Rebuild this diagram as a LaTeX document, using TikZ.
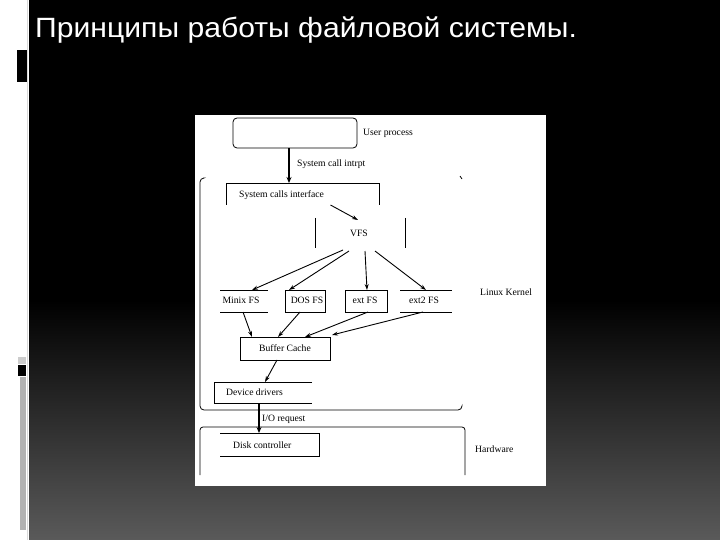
\documentclass[tikz,border=0pt]{standalone}
\usepackage{fontspec}
\setmainfont{Liberation Serif}
\newfontfamily\titlefont{Liberation Sans}
\usetikzlibrary{arrows.meta,calc}
\tikzset{
  ln/.style={line width=0.8pt,black},
  arr/.style={line width=0.9pt,-{Stealth[length=6bp,width=4bp]}},
  tarr/.style={line width=1.8pt,-{Stealth[length=6bp,width=5bp]}},
  lbl/.style={font=\fontsize{9.7}{10}\selectfont,inner sep=0pt,text=black},
  box/.style={inner sep=0pt,outer sep=0pt},
}
\begin{document}
\begin{tikzpicture}[x=1bp,y=-1bp]
\useasboundingbox (0,0) rectangle (720,540);
% background
\fill[white] (0,0) rectangle (720,540);
\fill[black] (29,0) rectangle (720,300);
\shade[top color=black,bottom color={rgb,255:red,90;green,90;blue,90}] (29,300) rectangle (720,540);
\draw[gray!30,line width=0.6pt] (27.5,0) -- (27.5,540);
\fill[black] (17,50) rectangle (27,82);
\fill[gray!40] (18,357) rectangle (26,364);
\fill[black] (18,365) rectangle (26,376);
\fill[gray!60] (20,377) rectangle (26,530);
% title
\node[anchor=base west,inner sep=0pt,text=white,xscale=1.08,font=\titlefont\fontsize{28}{30}\selectfont] (title) at (35,38) {Принципы работы файловой системы.};
% diagram image
\fill[white] (195,115) rectangle (546,486);
% kernel frame
\draw[ln,rounded corners=4bp] (203,178) -- (200,178) -- (200,410) -- (462,410) -- (462,406);
\draw[ln] (460,176) -- (462,179);
% hardware frame
\draw[ln,rounded corners=3bp] (200,475) -- (200,427) -- (465,427) -- (465,475);
% boxes
\node[box,draw,line width=0.8pt,rounded corners=4bp,minimum width=124bp,minimum height=30bp] (up) at (295,133) {};
\node[box,minimum width=153bp,minimum height=22bp] (sci) at (302.5,194) {};
\draw[ln] (sci.south west) -- (sci.north west) -- (sci.north east) -- (sci.south east);
\node[box,minimum width=90bp,minimum height=30bp] (vfs) at (360,233) {};
\draw[ln] (vfs.north west) -- (vfs.south west) (vfs.north east) -- (vfs.south east);
\node[box,minimum width=48bp,minimum height=22bp] (minix) at (244,301) {};
\draw[ln] (minix.north west) -- (minix.north east) (minix.south west) -- (minix.south east);
\node[box,draw,line width=0.8pt,minimum width=40bp,minimum height=22bp] (dos) at (305,301) {};
\node[box,draw,line width=0.8pt,minimum width=42bp,minimum height=22bp] (ext) at (366,301) {};
\node[box,minimum width=52bp,minimum height=22bp] (ext2) at (426,301) {};
\draw[ln] (ext2.north west) -- (ext2.north east) (ext2.south west) -- (ext2.south east);
\node[box,draw,line width=0.8pt,minimum width=90bp,minimum height=23bp] (bc) at (285,348.5) {};
\node[box,minimum width=98bp,minimum height=21bp] (dd) at (263,392.5) {};
\draw[ln] (dd.north east) -- (dd.north west) -- (dd.south west) -- (dd.south east);
\node[box,minimum width=99bp,minimum height=23bp] (dc) at (269.5,444.5) {};
\draw[ln] (dc.north west) -- (dc.north east) -- (dc.south east) -- (dc.south west);
% labels
\node[lbl,anchor=west] (upl) at (363,133) {User process};
\node[lbl,anchor=west] (scl) at (297,164) {System call intrpt};
\node[lbl,anchor=west] (scil) at (239,195) {System calls interface};
\node[lbl] (vfsl) at (359,233) {VFS};
\node[lbl] (minixl) at (241,300) {Minix FS};
\node[lbl] (dosl) at (307,300) {DOS FS};
\node[lbl] (extl) at (365,300) {ext FS};
\node[lbl] (ext2l) at (424,300) {ext2 FS};
\node[lbl,anchor=west] (lk) at (480,292) {Linux Kernel};
\node[lbl] (bcl) at (285,348) {Buffer Cache};
\node[lbl,anchor=west] (ddl) at (226,392) {Device drivers};
\node[lbl,anchor=west] (iol) at (262,419) {I/O request};
\node[lbl,anchor=west] (dcl) at (233,445) {Disk controller};
\node[lbl,anchor=west] (hwl) at (475,449) {Hardware};
% arrows
\draw[tarr] ([xshift=-6bp]up.south) -- ([xshift=-6bp]up.south |- sci.north);
\draw[arr] ([xshift=28bp]sci.south) -- ([xshift=-2bp,yshift=-2bp]vfs.north);
\draw[arr] ([xshift=-17bp,yshift=-2bp]vfs.south) -- ([xshift=8bp]minix.north);
\draw[arr] ([xshift=-11bp,yshift=-3bp]vfs.south) -- ([xshift=-16bp]dos.north);
\draw[arr] ([xshift=5bp,yshift=-3bp]vfs.south) -- ([xshift=1bp]ext.north);
\draw[arr] ([xshift=15bp,yshift=-3bp]vfs.south) -- (ext2.north);
\draw[arr] ([xshift=-1bp]minix.south) -- ([xshift=-33bp]bc.north);
\draw[arr] ([xshift=-5bp]dos.south) -- ([xshift=-7bp]bc.north);
\draw[arr] ([xshift=2bp]ext.south) -- ([xshift=20bp]bc.north);
\draw[arr] ([xshift=-3bp]ext2.south) -- ([xshift=2bp,yshift=2bp]bc.north east);
\draw[arr] ([xshift=-8bp]bc.south) -- ([xshift=2bp]dd.north);
\draw[tarr] ([xshift=-4bp]dd.south) -- ([xshift=-4bp]dd.south |- dc.north);
\end{tikzpicture}
\end{document}
